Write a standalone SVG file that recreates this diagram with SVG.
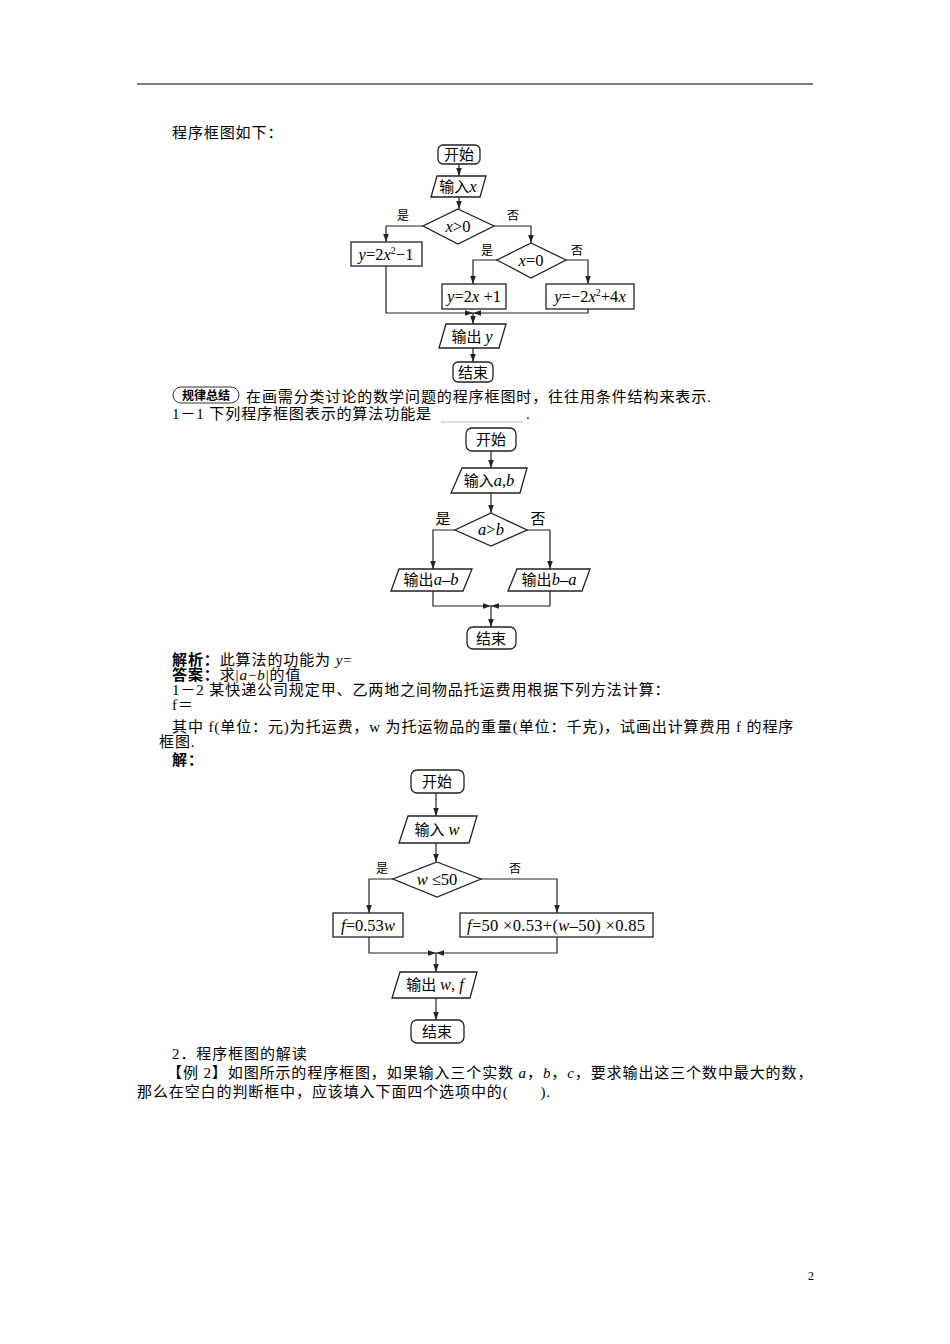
<svg xmlns="http://www.w3.org/2000/svg" width="950" height="1344" viewBox="0 0 950 1344">
<style>
text{font-family:"Liberation Serif","Noto Sans CJK SC",serif;fill:#000}
.t{font-size:15px;letter-spacing:0.9px}
.n{font-size:15px}
.m{font-size:16.5px}
.s{font-size:12px}
.b{font-weight:bold}
.i{font-style:italic}
.shape{fill:#fff;stroke:#222;stroke-width:1.3}
.ln{fill:none;stroke:#222;stroke-width:1.2}
</style>
<defs>
<marker id="a" viewBox="0 0 10 10" refX="10" refY="5" markerWidth="7" markerHeight="7" orient="auto"><path d="M0,1.5 L10,5 L0,8.5 z" fill="#222"/></marker>
</defs>
<rect width="950" height="1344" fill="#fff"/>
<line x1="137" y1="84" x2="813" y2="84" stroke="#000" stroke-width="1"/>

<text class="t" x="172" y="138">程序框图如下：</text>

<!-- chart 1 connectors -->
<g id="c1" class="ln" marker-end="url(#a)">
<path d="M459,164 V176"/>
<path d="M459,197 V209"/>
<path d="M423,226 H386 V242"/>
<path d="M494,226 H531 V243"/>
<path d="M497,260 H473 V284"/>
<path d="M566,260 H588 V284"/>
<path d="M386,266 V313 H473"/>
<path d="M588,309 V313 H473"/>
<path d="M473,313 V324"/>
<path d="M473,348 V362"/>
</g>
<g id="n1-start"><rect class="shape" x="438" y="145" width="42" height="19" rx="5"/><text class="n" x="459" y="160" text-anchor="middle">开始</text></g>
<g id="n1-in"><polygon class="shape" points="437,176 486,176 480,197 431,197"/><text class="n" x="458" y="192" text-anchor="middle">输入<tspan class="i m">x</tspan></text></g>
<g id="n1-d1"><polygon class="shape" points="458,209 494,226 458,244 423,226"/><text class="m" x="458" y="232" text-anchor="middle"><tspan class="i">x</tspan>&gt;0</text></g>
<text class="s" x="403" y="220" text-anchor="middle">是</text>
<text class="s" x="513" y="220" text-anchor="middle">否</text>
<g id="n1-b1"><rect class="shape" x="351" y="242" width="71" height="24"/><text class="m" x="386" y="260" text-anchor="middle"><tspan class="i">y</tspan>=2<tspan class="i">x</tspan><tspan font-size="10" dy="-6">2</tspan><tspan dy="6">−1</tspan></text></g>
<g id="n1-d2"><polygon class="shape" points="531,243 566,260 531,278 497,260"/><text class="m" x="531" y="266" text-anchor="middle"><tspan class="i">x</tspan>=0</text></g>
<text class="s" x="487" y="255" text-anchor="middle">是</text>
<text class="s" x="577" y="255" text-anchor="middle">否</text>
<g id="n1-b2"><rect class="shape" x="442" y="284" width="64" height="25"/><text class="m" x="474" y="302" text-anchor="middle"><tspan class="i">y</tspan>=2<tspan class="i">x</tspan> +1</text></g>
<g id="n1-b3"><rect class="shape" x="546" y="284" width="88" height="25"/><text class="m" x="590" y="302" text-anchor="middle"><tspan class="i">y</tspan>=−2<tspan class="i">x</tspan><tspan font-size="10" dy="-6">2</tspan><tspan dy="6">+4</tspan><tspan class="i">x</tspan></text></g>
<g id="n1-out"><polygon class="shape" points="446,324 506,324 499,348 439,348"/><text class="n" x="472" y="342" text-anchor="middle">输出 <tspan class="i m">y</tspan></text></g>
<g id="n1-end"><rect class="shape" x="453" y="362" width="40" height="20" rx="5"/><text class="n" x="473" y="378" text-anchor="middle">结束</text></g>

<!-- summary badge and text -->
<g id="badge"><rect x="173" y="387" width="66" height="16" rx="8" fill="#fff" stroke="#333" stroke-width="1"/><text class="s b" x="206" y="400" text-anchor="middle">规律总结</text></g>
<text class="t" x="246" y="402">在画需分类讨论的数学问题的程序框图时，往往用条件结构来表示.</text>
<text class="t" x="172" y="419">1－1 下列程序框图表示的算法功能是</text>
<line x1="441" y1="422" x2="523" y2="422" stroke="#bbb" stroke-width="1"/>
<text class="t" x="526" y="419">.</text>

<!-- chart 2 -->
<g id="c2" class="ln" marker-end="url(#a)">
<path d="M491,451 V468"/>
<path d="M491,493 V513"/>
<path d="M455,530 H433 V569"/>
<path d="M527,530 H550 V569"/>
<path d="M433,591 V606 H491"/>
<path d="M550,591 V606 H491"/>
<path d="M491,606 V627"/>
</g>
<g id="n2-start"><rect class="shape" x="466" y="428" width="50" height="23" rx="6"/><text class="n" x="491" y="445" text-anchor="middle">开始</text></g>
<g id="n2-in"><polygon class="shape" points="462,468 527,468 520,493 451,493"/><text class="n" x="489" y="486" text-anchor="middle">输入<tspan class="i m">a</tspan><tspan class="m">,</tspan><tspan class="i m">b</tspan></text></g>
<g id="n2-d"><polygon class="shape" points="491,513 527,530 491,546 455,530"/><text class="m" x="491" y="535" text-anchor="middle"><tspan class="i">a</tspan>&gt;<tspan class="i">b</tspan></text></g>
<text class="n" x="443" y="524" text-anchor="middle">是</text>
<text class="n" x="538" y="524" text-anchor="middle">否</text>
<g id="n2-o1"><polygon class="shape" points="399,569 472,569 463,591 391,591"/><text class="n" x="431" y="585" text-anchor="middle">输出<tspan class="i m">a</tspan><tspan class="m">–</tspan><tspan class="i m">b</tspan></text></g>
<g id="n2-o2"><polygon class="shape" points="517,569 590,569 582,591 508,591"/><text class="n" x="549" y="585" text-anchor="middle">输出<tspan class="i m">b</tspan><tspan class="m">–</tspan><tspan class="i m">a</tspan></text></g>
<g id="n2-end"><rect class="shape" x="467" y="627" width="49" height="22" rx="6"/><text class="n" x="491" y="644" text-anchor="middle">结束</text></g>

<!-- text block -->
<text class="t" x="172" y="665"><tspan class="b">解析：</tspan>此算法的功能为 <tspan class="i">y</tspan>=</text>
<text class="t" x="172" y="680"><tspan class="b">答案：</tspan>求|<tspan class="i">a</tspan>−<tspan class="i">b</tspan>|的值</text>
<text class="t" x="172" y="695">1－2 某快递公司规定甲、乙两地之间物品托运费用根据下列方法计算：</text>
<text class="t" x="172" y="710">f＝</text>
<text class="t" x="172" y="732">其中 f(单位：元)为托运费，w 为托运物品的重量(单位：千克)，试画出计算费用 f 的程序</text>
<text class="t" x="159" y="747">框图.</text>
<text class="t b" x="172" y="765">解：</text>

<!-- chart 3 -->
<g id="c3" class="ln" marker-end="url(#a)">
<path d="M436,793 V816"/>
<path d="M436,843 V862"/>
<path d="M393,879 H369 V913"/>
<path d="M481,879 H557 V913"/>
<path d="M369,937 V953 H436"/>
<path d="M557,937 V953 H436"/>
<path d="M436,953 V972"/>
<path d="M436,998 V1020"/>
</g>
<g id="n3-start"><rect class="shape" x="411" y="770" width="53" height="23" rx="6"/><text class="n" x="437" y="787" text-anchor="middle">开始</text></g>
<g id="n3-in"><polygon class="shape" points="408,816 477,816 469,843 399,843"/><text class="n" x="437" y="835" text-anchor="middle">输入 <tspan class="i m">w</tspan></text></g>
<g id="n3-d"><polygon class="shape" points="437,862 481,879 437,897 393,879"/><text class="m" x="437" y="885" text-anchor="middle"><tspan class="i">w</tspan> ≤50</text></g>
<text class="s" x="382" y="873" text-anchor="middle">是</text>
<text class="s" x="515" y="873" text-anchor="middle">否</text>
<g id="n3-b1"><rect class="shape" x="333" y="913" width="70" height="24"/><text class="m" x="368" y="931" text-anchor="middle"><tspan class="i">f</tspan>=0.53<tspan class="i">w</tspan></text></g>
<g id="n3-b2"><rect class="shape" x="460" y="913" width="193" height="24"/><text class="m" x="556" y="931" text-anchor="middle" textLength="178"><tspan class="i">f</tspan>=50 ×0.53+(<tspan class="i">w</tspan>–50) ×0.85</text></g>
<g id="n3-out"><polygon class="shape" points="400,972 477,972 470,998 392,998"/><text class="n" x="435" y="990" text-anchor="middle">输出 <tspan class="i m">w</tspan><tspan class="m">, </tspan><tspan class="i m">f</tspan></text></g>
<g id="n3-end"><rect class="shape" x="411" y="1020" width="53" height="23" rx="6"/><text class="n" x="437" y="1037" text-anchor="middle">结束</text></g>

<text class="t" x="172" y="1059">2．程序框图的解读</text>
<text class="t" x="167" y="1078">【例 2】如图所示的程序框图，如果输入三个实数 <tspan class="i">a</tspan>，<tspan class="i">b</tspan>，<tspan class="i">c</tspan>，要求输出这三个数中最大的数，</text>
<text class="t" x="137" y="1097">那么在空白的判断框中，应该填入下面四个选项中的(　　).</text>
<text font-family="Liberation Sans,sans-serif" font-size="12" x="808" y="1280">2</text>
</svg>
